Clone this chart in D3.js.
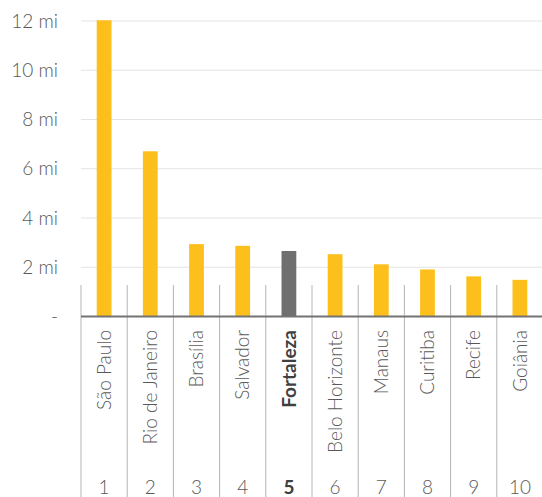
<!DOCTYPE html>
<html><head><meta charset="utf-8">
<script src="https://cdn.jsdelivr.net/npm/d3@7"></script>
<style>
html,body{margin:0;padding:0;background:#fff;}
svg{display:block;font-family:Lato, "Open Sans", sans-serif;}
</style></head>
<body><svg id="c" width="542" height="497"></svg>
<script>
const cities = ["São Paulo","Rio de Janeiro","Brasília","Salvador","Fortaleza","Belo Horizonte","Manaus","Curitiba","Recife","Goiânia"];
const ranks = ["1","2","3","4","5","6","7","8","9","10"];
const population = [12.03, 6.71, 2.94, 2.87, 2.66, 2.53, 2.12, 1.91, 1.63, 1.49];
const highlight = "Fortaleza";
const yTicks = [0, 2, 4, 6, 8, 10, 12];
const yTickLabels = ["-", "2 mi", "4 mi", "6 mi", "8 mi", "10 mi", "12 mi"];

(function(){
const svg = d3.select("#c");
const mLeft = 81, mRight = 543, mTop = 21, base = 316.5;
const x = d3.scaleBand().domain(cities).range([mLeft, mRight]).paddingInner(0.68).paddingOuter(0.34);
const xb = d3.scaleBand().domain(cities).range([mLeft, mRight]);
const y = d3.scaleLinear().domain([0, 12]).range([base, mTop]);
const textCol = "#595959";
const fs = 19;

svg.append("g").selectAll("line").data(yTicks.filter(d => d > 0)).join("line")
  .attr("x1", mLeft).attr("x2", mRight)
  .attr("y1", d => y(d)).attr("y2", d => y(d))
  .attr("stroke", "#e3e3e3").attr("stroke-width", 1.2);

svg.append("g").selectAll("text").data(yTicks).join("text")
  .attr("x", 58).attr("y", d => y(d))
  .attr("dy", "0.35em").attr("text-anchor", "end")
  .attr("fill", textCol).attr("font-size", fs).attr("font-weight", 300)
  .text((d, i) => yTickLabels[i]);

svg.append("g").selectAll("rect").data(cities).join("rect")
  .attr("x", d => x(d)).attr("width", x.bandwidth())
  .attr("y", (d, i) => y(population[i]))
  .attr("height", (d, i) => base - y(population[i]))
  .attr("fill", d => d === highlight ? "#6f6f6f" : "#fcbf1b");

const bounds = cities.map(d => xb(d)).concat([mRight]);
svg.append("g").selectAll("line").data(bounds).join("line")
  .attr("x1", d => d).attr("x2", d => d)
  .attr("y1", 285).attr("y2", 497)
  .attr("stroke", "#b4b4b4").attr("stroke-width", 1);

svg.append("line").attr("x1", mLeft).attr("x2", mRight)
  .attr("y1", base).attr("y2", base)
  .attr("stroke", "#737373").attr("stroke-width", 2.2);

svg.append("g").selectAll("text").data(cities).join("text")
  .attr("transform", d => `translate(${xb(d) + xb.bandwidth()/2},330) rotate(-90)`)
  .attr("dy", "0.35em").attr("text-anchor", "end")
  .attr("fill", d => d === highlight ? "#404040" : textCol)
  .attr("font-weight", d => d === highlight ? "bold" : 300)
  .attr("font-size", fs)
  .text(d => d);

svg.append("g").selectAll("text").data(cities).join("text")
  .attr("x", d => xb(d) + xb.bandwidth()/2).attr("y", 494)
  .attr("text-anchor", "middle")
  .attr("fill", d => d === highlight ? "#404040" : textCol)
  .attr("font-weight", d => d === highlight ? "bold" : 300)
  .attr("font-size", fs)
  .text((d, i) => ranks[i]);
})();
</script></body></html>
